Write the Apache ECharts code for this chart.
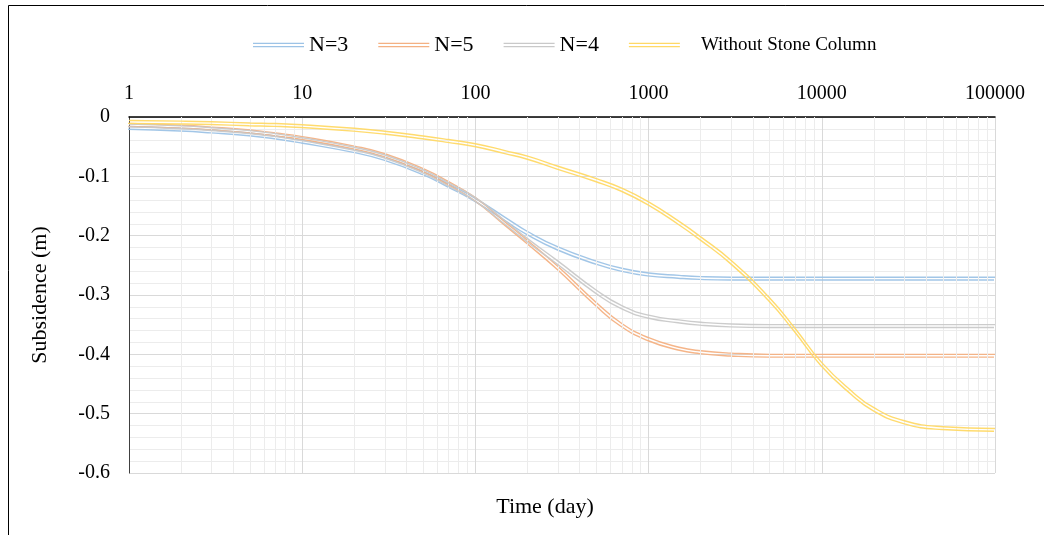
<!DOCTYPE html>
<html>
<head>
<meta charset="utf-8">
<script src="https://cdn.jsdelivr.net/npm/echarts@6/dist/echarts.min.js"></script>
<style>
html,body{margin:0;padding:0;background:#fff;}
#chart{width:1044px;height:535px;}
</style>
</head>
<body>
<div id="chart"></div>
<script>
// ---- data ----
var days = [1, 2, 3, 5, 7, 10, 20, 30, 50, 70, 100, 150, 200, 300, 500, 700, 1000, 1500, 2000, 3000, 5000, 7000, 10000, 15000, 20000, 30000, 50000, 100000];
var n3 = [-0.016, -0.019, -0.022, -0.027, -0.032, -0.039, -0.055, -0.068, -0.092, -0.113, -0.137, -0.170, -0.193, -0.219, -0.243, -0.255, -0.263, -0.267, -0.269, -0.270, -0.270, -0.270, -0.270, -0.270, -0.270, -0.270, -0.270, -0.270];
var n5 = [-0.011, -0.014, -0.017, -0.022, -0.027, -0.033, -0.049, -0.062, -0.087, -0.109, -0.136, -0.178, -0.208, -0.252, -0.313, -0.348, -0.372, -0.388, -0.394, -0.398, -0.400, -0.400, -0.400, -0.400, -0.400, -0.400, -0.400, -0.400];
var n4 = [-0.012, -0.015, -0.018, -0.023, -0.028, -0.035, -0.051, -0.064, -0.089, -0.111, -0.136, -0.176, -0.205, -0.243, -0.292, -0.318, -0.334, -0.342, -0.346, -0.349, -0.350, -0.350, -0.350, -0.350, -0.350, -0.350, -0.350, -0.350];
var noColumn = [-0.006, -0.007, -0.008, -0.010, -0.011, -0.013, -0.019, -0.024, -0.032, -0.038, -0.045, -0.057, -0.066, -0.083, -0.104, -0.120, -0.143, -0.176, -0.202, -0.242, -0.305, -0.356, -0.414, -0.463, -0.490, -0.512, -0.522, -0.525];
var seriesNames = ['N=3', 'N=5', 'N=4', 'Without Stone Column'];
var seriesValues = [n3, n5, n4, noColumn];
var seriesColors = ['#9dc3e6', '#f4b183', '#c9c9c9', '#ffd966'];
var yMin = -0.6, yMax = 0, yStep = 0.1;
var xMin = 1, xMax = 100000;

// minor vertical gridline positions (2..9 within each decade)
var minorDays = [];
for (var d = 1; d < xMax; d *= 10) {
  for (var k = 2; k <= 9; k++) minorDays.push(k * d);
}

var FONT = '"Liberation Serif", "Times New Roman", serif';

var chart = echarts.init(document.getElementById('chart'), null, {renderer: 'canvas'});

var series = [{
  name: 'minor-grid',
  type: 'line',
  data: [],
  silent: true,
  z: 1,
  markLine: {
    silent: true,
    symbol: ['none', 'none'],
    label: {show: false},
    lineStyle: {color: '#ececec', width: 1, type: 'solid'},
    animation: false,
    data: minorDays.map(function (v) { return {xAxis: v}; })
  }
}];

seriesNames.forEach(function (name, i) {
  series.push({
    name: name,
    type: 'line',
    data: days.map(function (t, j) { return [t, seriesValues[i][j]]; }),
    smooth: 0.5,
    showSymbol: false,
    symbol: 'none',
    z: 3 + i,
    color: seriesColors[i],
    lineStyle: {
      width: 1.4,
      color: seriesColors[i],
      opacity: 0.95,
      shadowColor: seriesColors[i],
      shadowBlur: 0,
      shadowOffsetX: -1,
      shadowOffsetY: 2.8
    }
  });
});

var option = {
  animation: false,
  backgroundColor: '#fff',
  textStyle: {fontFamily: FONT, color: '#000'},
  legend: {
    left: 248,
    top: 29,
    itemWidth: 51,
    itemHeight: 5,
    itemGap: 30,
    icon: 'path://M0,0L50,0L50,1.4L0,1.4Z M0,3.2L50,3.2L50,4.6L0,4.6Z',
    data: seriesNames,
    formatter: function (name) {
      return name === 'Without Stone Column' ? '{b|' + name + '}' : '{a|' + name + '}';
    },
    textStyle: {
      fontFamily: FONT,
      color: '#000',
      rich: {
        a: {fontSize: 22, fontFamily: FONT, color: '#000'},
        b: {fontSize: 19, fontFamily: FONT, color: '#000', padding: [0, 0, 0, 16]}
      }
    }
  },
  grid: {left: 129, right: 49, top: 117, height: 356, containLabel: false},
  xAxis: {
    type: 'log',
    logBase: 10,
    min: xMin,
    max: xMax,
    position: 'top',
    axisLine: {show: true, onZero: false, lineStyle: {color: '#000', width: 1.5}},
    axisTick: {show: false},
    axisLabel: {
      fontSize: 20, fontFamily: FONT, color: '#000', margin: 13,
      formatter: function (v) { return String(Math.round(v)); }
    },
    splitLine: {show: true, lineStyle: {color: '#d9d9d9', width: 1}},
    minorTick: {show: false},
    minorSplitLine: {show: false}
  },
  yAxis: {
    type: 'value',
    min: yMin,
    max: yMax,
    interval: yStep,
    axisLine: {show: true, onZero: false, lineStyle: {color: '#404040', width: 1}},
    axisTick: {show: false},
    axisLabel: {fontSize: 20, fontFamily: FONT, color: '#000', margin: 19},
    splitLine: {show: true, lineStyle: {color: '#d9d9d9', width: 1}},
    minorTick: {show: false, splitNumber: 5},
    minorSplitLine: {show: true, lineStyle: {color: '#ececec', width: 1}}
  },
  graphic: [
    {
      type: 'rect',
      silent: true,
      shape: {x: 8.5, y: 5.5, width: 1100, height: 600},
      style: {fill: 'none', stroke: '#000', lineWidth: 1},
      z: 100
    },
    {
      type: 'text',
      x: 40,
      y: 295,
      rotation: Math.PI / 2,
      style: {
        text: 'Subsidence (m)',
        fontSize: 22,
        fontFamily: FONT,
        fill: '#000',
        align: 'center',
        verticalAlign: 'middle'
      }
    },
    {
      type: 'text',
      x: 545,
      y: 507,
      style: {
        text: 'Time (day)',
        fontSize: 22,
        fontFamily: FONT,
        fill: '#000',
        align: 'center',
        verticalAlign: 'middle'
      }
    }
  ],
  series: series
};

chart.setOption(option);
</script>
</body>
</html>
